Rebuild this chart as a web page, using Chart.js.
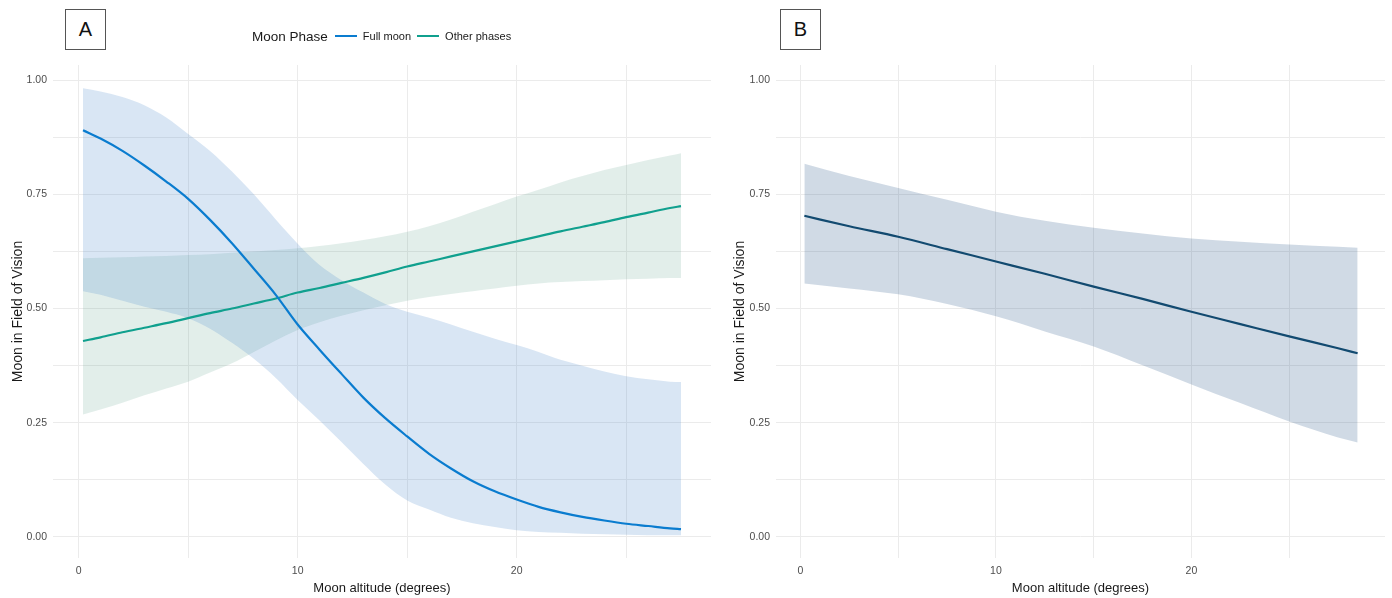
<!DOCTYPE html>
<html>
<head>
<meta charset="utf-8">
<script src="https://cdn.jsdelivr.net/npm/chart.js@4.4.1/dist/chart.umd.min.js"></script>
<style>
  html, body { margin: 0; padding: 0; background: #fff; }
  body { width: 1392px; height: 598px; position: relative; overflow: hidden; font-family: "Liberation Sans", Arial, sans-serif; }
  .panel { position: absolute; top: 0; height: 598px; }
  #panelA { left: 0; width: 720px; }
  #panelB { left: 720px; width: 672px; }
  .tag { position: absolute; top: 9px; width: 39px; height: 39px; border: 1.5px solid #555; background: #fff;
         font-size: 20px; color: #111; display: flex; align-items: center; justify-content: center; }
  #legend { position: absolute; left: 252px; top: 27px; height: 18px; display: flex; align-items: center; color: #1a1a1a; }
  #legend .title { font-size: 13.5px; margin-right: 7px; }
  #legend .key { width: 22px; height: 2.5px; margin-right: 6px; }
  #legend .lab { font-size: 11px; margin-right: 6px; }
</style>
</head>
<body>
<div class="panel" id="panelA"><canvas id="chartA"></canvas></div>
<div class="panel" id="panelB"><canvas id="chartB"></canvas></div>
<div class="tag" style="left:65px">A</div>
<div class="tag" style="left:780px">B</div>
<div id="legend"><span class="title">Moon Phase</span></div>
<script>
// 패널 A: 보름달 / 기타 위상
const altA = [0.2, 1, 2, 3, 4, 5, 6, 7, 8, 9, 10, 11, 12, 13, 14, 15, 16, 17, 18, 19, 20, 21, 22, 23, 24, 25, 26, 27, 27.5];
const fullFit = [0.89, 0.872, 0.845, 0.813, 0.778, 0.74, 0.694, 0.643, 0.587, 0.53, 0.465, 0.41, 0.357, 0.305, 0.26, 0.22, 0.182, 0.15, 0.122, 0.1, 0.082, 0.066, 0.054, 0.044, 0.036, 0.029, 0.024, 0.019, 0.017];
const fullHi = [0.982, 0.975, 0.963, 0.945, 0.918, 0.882, 0.845, 0.8, 0.75, 0.695, 0.642, 0.595, 0.562, 0.535, 0.51, 0.493, 0.48, 0.465, 0.449, 0.434, 0.42, 0.405, 0.388, 0.375, 0.362, 0.352, 0.345, 0.34, 0.339];
const fullLo = [0.538, 0.53, 0.517, 0.504, 0.493, 0.479, 0.456, 0.425, 0.39, 0.348, 0.3, 0.255, 0.208, 0.16, 0.115, 0.08, 0.06, 0.042, 0.03, 0.022, 0.015, 0.011, 0.009, 0.007, 0.006, 0.005, 0.004, 0.004, 0.004];
const otherFit = [0.429, 0.437, 0.448, 0.458, 0.468, 0.479, 0.49, 0.5, 0.511, 0.522, 0.535, 0.545, 0.556, 0.567, 0.579, 0.592, 0.603, 0.614, 0.625, 0.636, 0.647, 0.658, 0.669, 0.679, 0.689, 0.7, 0.71, 0.72, 0.724];
const otherHi = [0.61, 0.611, 0.612, 0.614, 0.615, 0.617, 0.619, 0.622, 0.625, 0.628, 0.632, 0.637, 0.643, 0.65, 0.658, 0.668, 0.68, 0.695, 0.712, 0.728, 0.745, 0.76, 0.776, 0.79, 0.803, 0.814, 0.825, 0.835, 0.84];
const otherLo = [0.268, 0.279, 0.294, 0.31, 0.325, 0.34, 0.36, 0.38, 0.405, 0.43, 0.453, 0.47, 0.484, 0.496, 0.507, 0.517, 0.525, 0.532, 0.538, 0.544, 0.55, 0.555, 0.558, 0.56, 0.562, 0.564, 0.565, 0.567, 0.567];

// 패널 B: 전체
const altB = [0.2, 2.5, 5, 7.5, 10, 12.5, 15, 17.5, 20, 22.5, 25, 27.5, 28.5];
const allFit = [0.703, 0.68, 0.657, 0.63, 0.603, 0.576, 0.548, 0.521, 0.493, 0.466, 0.439, 0.413, 0.402];
const allHi = [0.817, 0.79, 0.764, 0.738, 0.712, 0.692, 0.677, 0.664, 0.653, 0.646, 0.64, 0.635, 0.633];
const allLo = [0.555, 0.544, 0.531, 0.51, 0.483, 0.45, 0.417, 0.376, 0.334, 0.293, 0.253, 0.218, 0.207];

// 축 눈금
const xGrid = [0, 5, 10, 15, 20, 25];
const xLabels = [0, 10, 20];
const yGrid = [0, 0.125, 0.25, 0.375, 0.5, 0.625, 0.75, 0.875, 1];
const yLabels = [0, 0.25, 0.5, 0.75, 1];

const seriesNames = ['Full moon', 'Other phases'];
const seriesColors = ['#0a7ccf', '#10a08e'];

// 범례
const legend = document.getElementById('legend');
seriesNames.forEach((name, i) => {
  const key = document.createElement('span');
  key.className = 'key';
  key.style.background = seriesColors[i];
  const lab = document.createElement('span');
  lab.className = 'lab';
  lab.textContent = name;
  legend.appendChild(key);
  legend.appendChild(lab);
});

const pts = (xs, ys) => xs.map((x, i) => ({ x: x, y: ys[i] }));

function band(xs, lo, hi, color) {
  const base = { borderWidth: 0, pointRadius: 0, cubicInterpolationMode: 'monotone', order: 2 };
  return [
    { ...base, data: pts(xs, lo), fill: false },
    { ...base, data: pts(xs, hi), fill: '-1', backgroundColor: color },
  ];
}

function fitLine(xs, ys, color) {
  return { data: pts(xs, ys), borderColor: color, borderWidth: 2.2, pointRadius: 0, fill: false,
           cubicInterpolationMode: 'monotone', order: 0 };
}

// 공통 차트 생성 함수
function makeChart(id, datasets, xr, yTitlePad, leftW, rightPad) {
  new Chart(document.getElementById(id), {
    type: 'line',
    data: { datasets: datasets },
    options: {
      animation: false,
      responsive: true,
      maintainAspectRatio: false,
      layout: { padding: { top: 65, right: rightPad, bottom: 0, left: 0 } },
      plugins: { legend: { display: false }, tooltip: { enabled: false } },
      scales: {
        x: {
          type: 'linear', min: xr[0], max: xr[1],
          afterBuildTicks: (s) => { s.ticks = xGrid.map((v) => ({ value: v })); },
          afterFit: (s) => { s.height = 40; },
          ticks: { callback: (v) => (xLabels.includes(v) ? String(v) : ''), font: { size: 10.5 }, color: '#4d4d4d', padding: 7, maxRotation: 0, autoSkip: false },
          grid: { color: '#ebebeb', lineWidth: 1, drawTicks: false },
          border: { display: false },
          title: { display: true, text: 'Moon altitude (degrees)', font: { size: 13 }, color: '#1a1a1a', padding: { top: 2, bottom: 2 } },
        },
        y: {
          min: -0.046, max: 1.033,
          afterBuildTicks: (s) => { s.ticks = yGrid.map((v) => ({ value: v })); },
          afterFit: (s) => { s.width = leftW; },
          ticks: { callback: (v) => (yLabels.includes(v) ? v.toFixed(2) : ''), font: { size: 10.5 }, color: '#4d4d4d', padding: 6, autoSkip: false },
          grid: { color: '#ebebeb', lineWidth: 1, drawTicks: false },
          border: { display: false },
          title: { display: true, text: 'Moon in Field of Vision', font: { size: 14 }, color: '#1a1a1a', padding: { top: yTitlePad, bottom: 0 } },
        },
      },
    },
  });
}

Chart.defaults.font.family = '"Liberation Sans", Arial, sans-serif';

makeChart('chartA', [
  fitLine(altA, fullFit, seriesColors[0]),
  fitLine(altA, otherFit, seriesColors[1]),
  ...band(altA, fullLo, fullHi, 'rgba(65,130,200,0.2)'),
  ...band(altA, otherLo, otherHi, 'rgba(95,160,140,0.18)'),
], [-1.17, 28.87], 10, 53, 9);

makeChart('chartB', [
  fitLine(altB, allFit, '#124a70'),
  ...band(altB, allLo, allHi, 'rgba(20,70,125,0.2)'),
], [-1.25, 29.9], 12, 56, 7);
</script>
</body>
</html>
